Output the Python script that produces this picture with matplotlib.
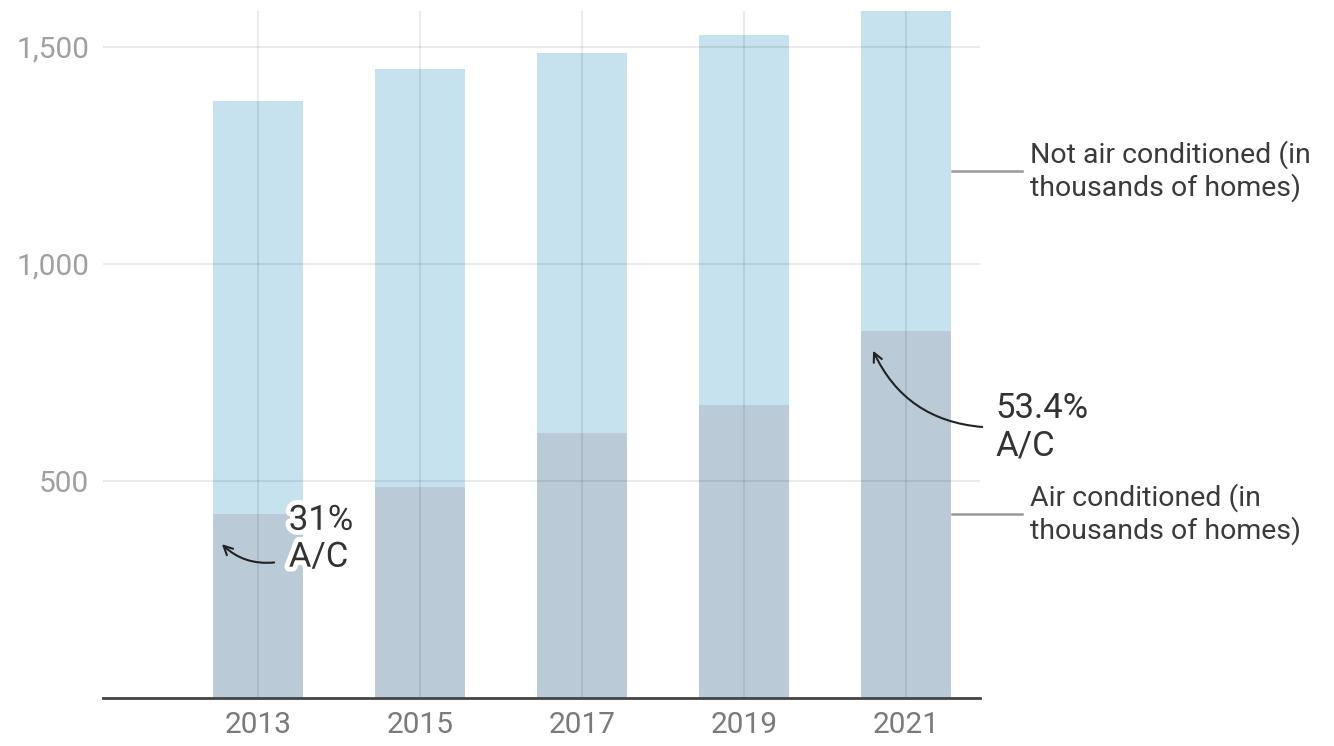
import matplotlib.pyplot as plt
import matplotlib.patheffects as pe
import numpy as np

years = ['2013', '2015', '2017', '2019', '2021']
air_conditioned = [424, 486, 611, 675, 846]
not_air_conditioned = [951, 963, 875, 853, 737]
y_ticks = [500, 1000, 1500]
y_tick_labels = ['500', '1,000', '1,500']

plt.rcParams['font.family'] = ['Roboto', 'DejaVu Sans']

fig = plt.figure(figsize=(13.34, 7.46), dpi=100)
ax = fig.add_axes([0.0772, 0.0643, 0.6574, 0.921])

x = np.arange(len(years))
ax.bar(x, air_conditioned, width=0.56, color='#bacad7', zorder=1)
ax.bar(x, not_air_conditioned, bottom=air_conditioned, width=0.56,
       color='#c5e2ee', zorder=1)

ax.set_xlim(-0.957, 4.457)
ax.set_ylim(0, 1583)

ax.set_yticks(y_ticks)
ax.set_yticklabels(y_tick_labels)
ax.set_xticks(x)
ax.set_xticklabels(years)
ax.tick_params(axis='both', length=0, labelsize=21.5)
ax.tick_params(axis='y', colors='#a0a0a0', pad=10)
ax.tick_params(axis='x', colors='#7a7a7a', pad=9)

ax.grid(True, color='#000000', alpha=0.08, lw=1.5, zorder=2)
ax.set_axisbelow(False)
for s in ['top', 'right', 'left']:
    ax.spines[s].set_visible(False)
ax.spines['bottom'].set_color('#444444')
ax.spines['bottom'].set_linewidth(2)
ax.spines['bottom'].set_zorder(3)

# series labels on the right with leader lines
ax.plot([4.284, 4.716], [1214, 1214], color='#999999', lw=1.8,
        clip_on=False)
ax.text(4.765, 1214, 'Not air conditioned (in\nthousands of homes)',
        fontsize=20.5, color='#3a3a3a', va='center', ha='left',
        linespacing=1.17)
ax.plot([4.284, 4.716], [424, 424], color='#999999', lw=1.8,
        clip_on=False)
ax.text(4.765, 424, 'Air conditioned (in\nthousands of homes)',
        fontsize=20.5, color='#3a3a3a', va='center', ha='left',
        linespacing=1.17)

# percentage annotations
stroke = [pe.withStroke(linewidth=7, foreground='white')]
ax.annotate('', xy=(-0.235, 359), xytext=(0.117, 313),
            arrowprops=dict(arrowstyle='->', color='#222222', lw=1.5,
                            connectionstyle='arc3,rad=-0.25',
                            mutation_scale=16), zorder=5)
t1 = ax.text(0.19, 367, '31%\nA/C', fontsize=25, color='#333333',
             va='center', ha='left', linespacing=1.15, zorder=6)
t1.set_path_effects(stroke)

ax.annotate('', xy=(3.79, 806), xytext=(4.488, 624),
            arrowprops=dict(arrowstyle='->', color='#222222', lw=1.5,
                            connectionstyle='arc3,rad=-0.3',
                            mutation_scale=16), zorder=5)
ax.text(4.55, 624, '53.4%\nA/C', fontsize=25, color='#333333',
        va='center', ha='left', linespacing=1.18, clip_on=False)

fig.savefig('out.png', dpi=100)
